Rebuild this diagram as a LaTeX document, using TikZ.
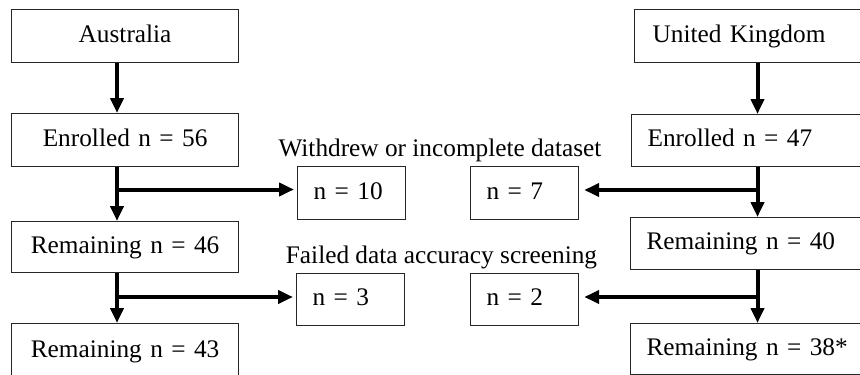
\documentclass[tikz,border=0pt]{standalone}
\usepackage{fontspec}
\setmainfont{Liberation Serif}
\usetikzlibrary{arrows.meta}
\begin{document}
\begin{tikzpicture}[x=1pt,y=-1pt,
  txt/.style={font=\fontsize{25.3pt}{30pt}\selectfont},
  box/.style={txt, draw=black!85, line width=1.2pt, anchor=north west,
    inner xsep=16pt, inner ysep=0pt, minimum height=53pt,
    text height=17pt, text depth=5pt},
  colbox/.style={box, align=center, text width=195pt},
  sidebox/.style={box, align=left, text width=76pt},
  widebox/.style={box, align=left, text width=230pt},
  flow/.style={line width=4pt, -{Triangle[width=13pt,length=15pt]}}
]
\useasboundingbox (0,0) rectangle (860,375);
\fill[white] (0,0) rectangle (860,375);
\clip (0,0) rectangle (860,375);

% arrow columns
\coordinate (colL) at (117,0);
\coordinate (colR) at (757.5,0);

% left column
\node[colbox] (aus)  at (11,9)   {Australia};
\node[colbox] (enrL) at (11,113) {Enrolled n = 56};
\node[colbox, minimum height=51pt] (remL1) at (11,221) {Remaining n = 46};
\node[colbox, minimum height=55pt] (remL2) at (11,323) {Remaining n = 43};

% right column
\node[widebox, inner xsep=18pt] (uk) at (634,9) {United Kingdom};
\node[widebox, minimum height=52pt] (enrR)  at (631,114) {Enrolled n = 47};
\node[widebox, minimum height=52pt] (remR1) at (630,217) {Remaining n = 40};
\node[widebox, minimum height=51pt] (remR2) at (630,323) {Remaining n = 38*};

% exclusion boxes
\node[sidebox] (n10) at (297,166) {n = 10};
\node[sidebox] (n7)  at (470,166) {n = 7};
\node[sidebox, minimum height=52pt] (n3) at (296,273) {n = 3};
\node[sidebox, minimum height=52pt] (n2) at (470,273) {n = 2};

% stage labels
\node[txt, anchor=base, inner sep=0pt] (wd) at (440,156) {Withdrew or incomplete dataset};
\node[txt, anchor=base, inner sep=0pt] (fd) at (441.5,263) {Failed data accuracy screening};

% main flow
\draw[flow] (aus.south -| colL) -- (enrL.north -| colL);
\draw[flow] (enrL.south -| colL) -- (remL1.north -| colL);
\draw[flow] (remL1.south -| colL) -- (remL2.north -| colL);
\draw[flow] (uk.south -| colR) -- (enrR.north -| colR);
\draw[flow] (enrR.south -| colR) -- (remR1.north -| colR);
\draw[flow] (remR1.south -| colR) -- (remR2.north -| colR);

% branches to exclusions
\coordinate (bL1) at (117,189.5);
\coordinate (bL2) at (117,297);
\coordinate (bR1) at (757.5,190);
\coordinate (bR2) at (757.5,297);
\draw[flow, shorten >=3pt] (bL1) -- (bL1 -| n10.west);
\draw[flow, shorten >=3pt] (bL2) -- (bL2 -| n3.west);
\draw[flow, shorten >=5pt] (bR1) -- (bR1 -| n7.east);
\draw[flow, shorten >=5pt] (bR2) -- (bR2 -| n2.east);
\end{tikzpicture}
\end{document}
